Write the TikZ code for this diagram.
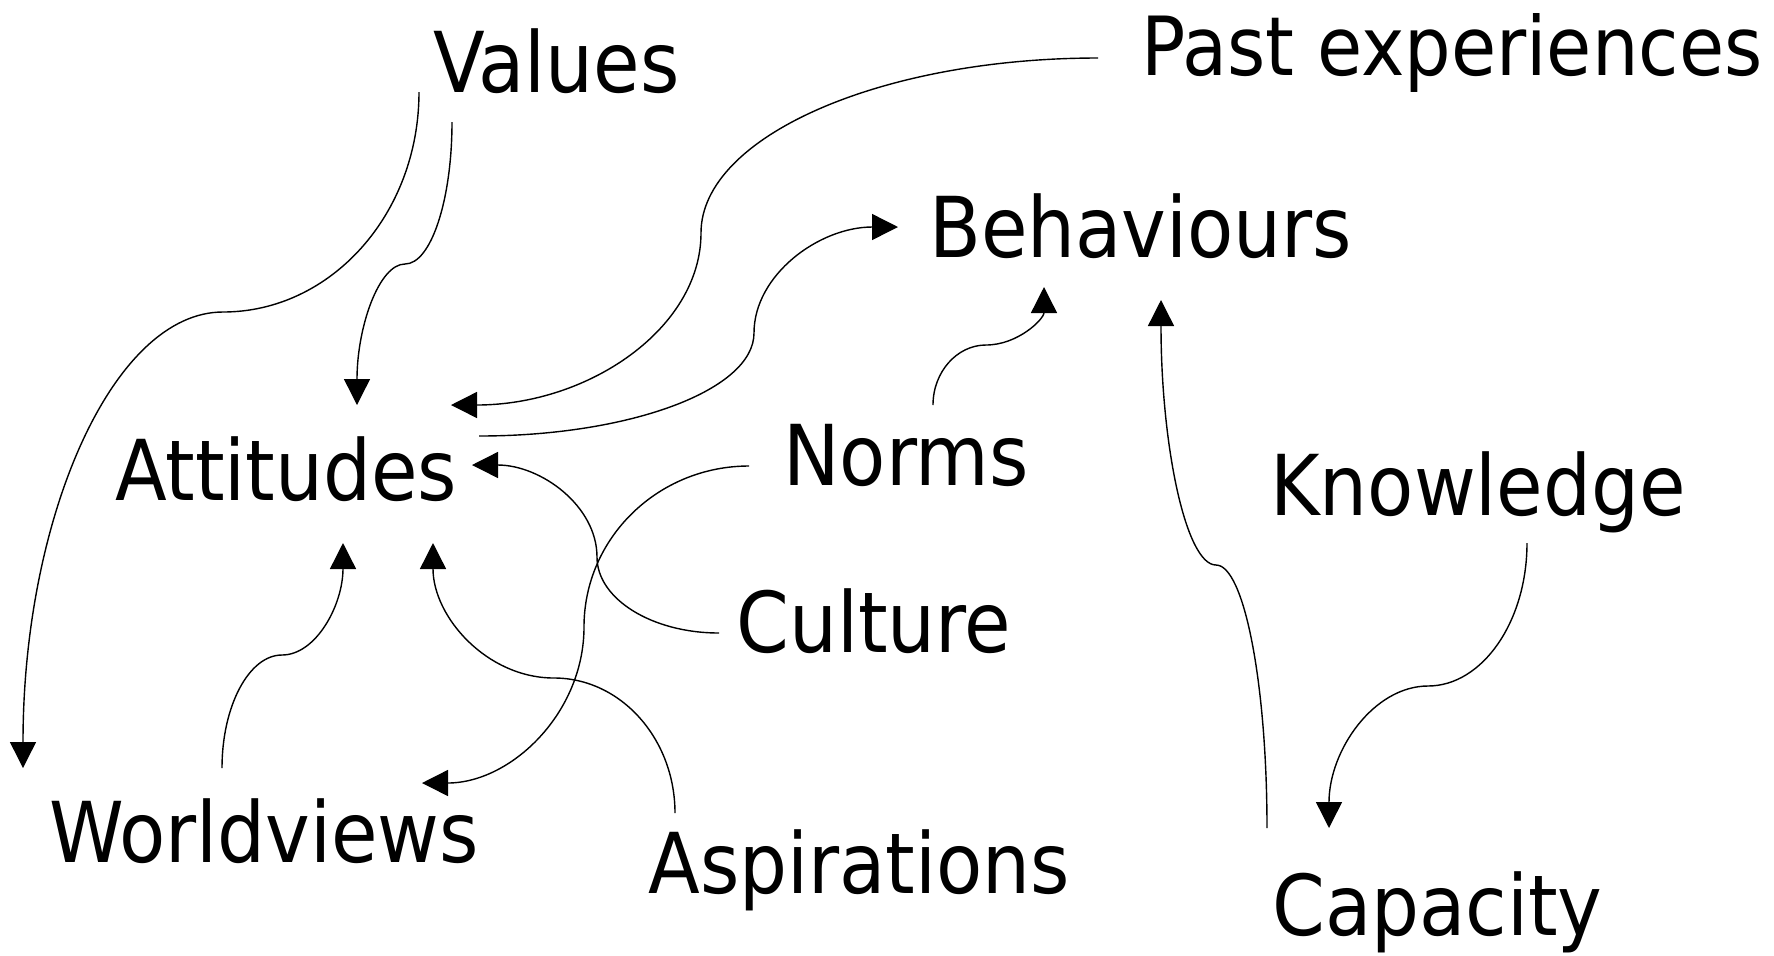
\documentclass[tikz,border=0pt]{standalone}
\usepackage{fontspec}
\setmainfont{DejaVu Sans Condensed}
\usetikzlibrary{arrows.meta}
\tikzset{lbl/.style={anchor=base west, inner sep=0pt, font=\fontsize{42}{50}\selectfont},
  link/.style={-{Triangle[length=13pt,width=13pt]}, line width=0.7pt}}

\begin{document}
\begin{tikzpicture}[x=0.5pt, y=-0.5pt]
  \useasboundingbox (0,0) rectangle (1774,955);
  \node[lbl] (values)  at (433,92)  {Values};
  \node[lbl, font=\fontsize{40.8}{48}\selectfont] (pastexp) at (1141,75) {Past experiences};
  \node[lbl] (behav)   at (929,257) {Behaviours};
  \node[lbl] (attit)   at (115,500) {Attitudes};
  \node[lbl] (norms)   at (783,485) {Norms};
  \node[lbl] (knowl)   at (1270,515) {Knowledge};
  \node[lbl] (culture) at (736,652) {Culture};
  \node[lbl] (worldv)  at (49,862)  {Worldviews};
  \node[lbl] (aspir)   at (648,893) {Aspirations};
  \node[lbl] (capac)   at (1272,935) {Capacity};

  % into attitudes
  \draw[link] ([shift={(19,30)}]values.base west) .. controls +(0,78) and +(26,0) .. (405,264)
    .. controls +(-26,0) and +(0,-78) .. ([shift={(242,-95)}]attit.base west);
  \draw[link] ([shift={(-43,-17)}]pastexp.base west) .. controls +(-218,0) and +(0,-96) .. (701,233)
    .. controls +(0,95) and +(138,0) .. ([shift={(336,-95)}]attit.base west);
  \draw[link] ([shift={(-17,-19)}]culture.base west) .. controls +(-67,0) and +(0,42) .. (597,557)
    .. controls +(0,-51) and +(69,0) .. ([shift={(357,-35)}]attit.base west);
  \draw[link] ([shift={(173,-94)}]worldv.base west) .. controls +(0,-62) and +(-33,0) .. (282,655)
    .. controls +(34,0) and +(0,62) .. ([shift={(228,43)}]attit.base west);
  \draw[link] ([shift={(27,-80)}]aspir.base west) .. controls +(0,-74) and +(67,0) .. (554,678)
    .. controls +(-67,0) and +(0,74) .. ([shift={(318,43)}]attit.base west);

  % into worldviews
  \draw[link] ([shift={(-14,0)}]values.base west) .. controls +(0,122) and +(108,0) .. (223,312)
    .. controls +(-110,0) and +(0,-251) .. ([shift={(-26,-94)}]worldv.base west);
  \draw[link] ([shift={(-34,-19)}]norms.base west) .. controls +(-91,0) and +(0,-89) .. (584,627)
    .. controls +(0,86) and +(89,0) .. ([shift={(373,-79)}]worldv.base west);

  % into behaviours
  \draw[link] ([shift={(364,-64)}]attit.base west) .. controls +(151,0) and +(0,57) .. (754,333)
    .. controls +(0,-58) and +(-79,0) .. ([shift={(-31,-30)}]behav.base west);
  \draw[link] ([shift={(150,-80)}]norms.base west) .. controls +(0,-33) and +(-29,0) .. (986,345)
    .. controls +(32,0) and +(0,32) .. ([shift={(115,30)}]behav.base west);
  \draw[link] ([shift={(-5,-107)}]capac.base west) .. controls +(0,-145) and +(28,0) .. (1216,565)
    .. controls +(-30,0) and +(0,146) .. ([shift={(232,43)}]behav.base west);

  % into capacity
  \draw[link] ([shift={(257,28)}]knowl.base west) .. controls +(0,79) and +(54,0) .. (1428,686)
    .. controls +(-54,0) and +(0,-78) .. ([shift={(57,-107)}]capac.base west);
\end{tikzpicture}
\end{document}
